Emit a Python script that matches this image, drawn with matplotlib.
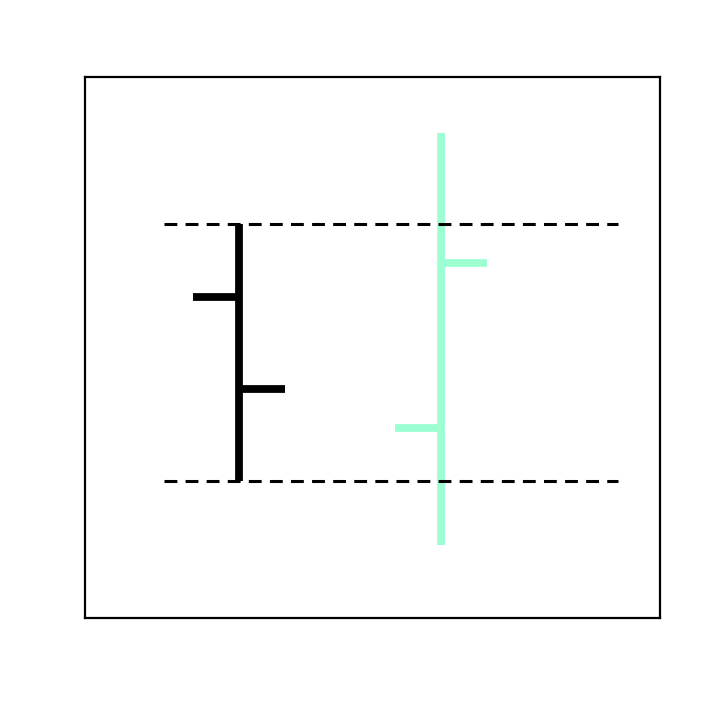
import matplotlib
matplotlib.use('Agg')
import matplotlib.pyplot as plt

# OHLC data for two bars
x_pos = [0, 1]
opens = [5.93, 3.51]
highs = [7.28, 8.96]
lows = [2.53, 1.35]
closes = [4.23, 6.56]
colors = ['black', '#9cffd2']

# reference levels (dashed lines)
levels = [highs[0], lows[0]]

fig = plt.figure(figsize=(7.2, 7.2), dpi=100)
ax = fig.add_axes([85/720, 102/720, 575/720, 541/720])

tick_w = 0.228
lw = 5.6

for i in range(len(x_pos)):
	x = x_pos[i]
	c = colors[i]
	ax.plot([x, x], [lows[i], highs[i]], color=c, lw=lw, solid_capstyle='butt')
	ax.plot([x - tick_w, x], [opens[i], opens[i]], color=c, lw=lw, solid_capstyle='butt')
	ax.plot([x, x + tick_w], [closes[i], closes[i]], color=c, lw=lw, solid_capstyle='butt')

for lv in levels:
	ax.plot([-0.371, 1.876], [lv, lv], color='black', lw=2.2, dashes=(4.2, 2.7))

ax.set_xlim(-0.762, 2.084)
ax.set_ylim(0, 10)
ax.set_xticks([])
ax.set_yticks([])
for s in ax.spines.values():
	s.set_linewidth(1.6)

fig.savefig('out.png', dpi=100)
plt.close()
